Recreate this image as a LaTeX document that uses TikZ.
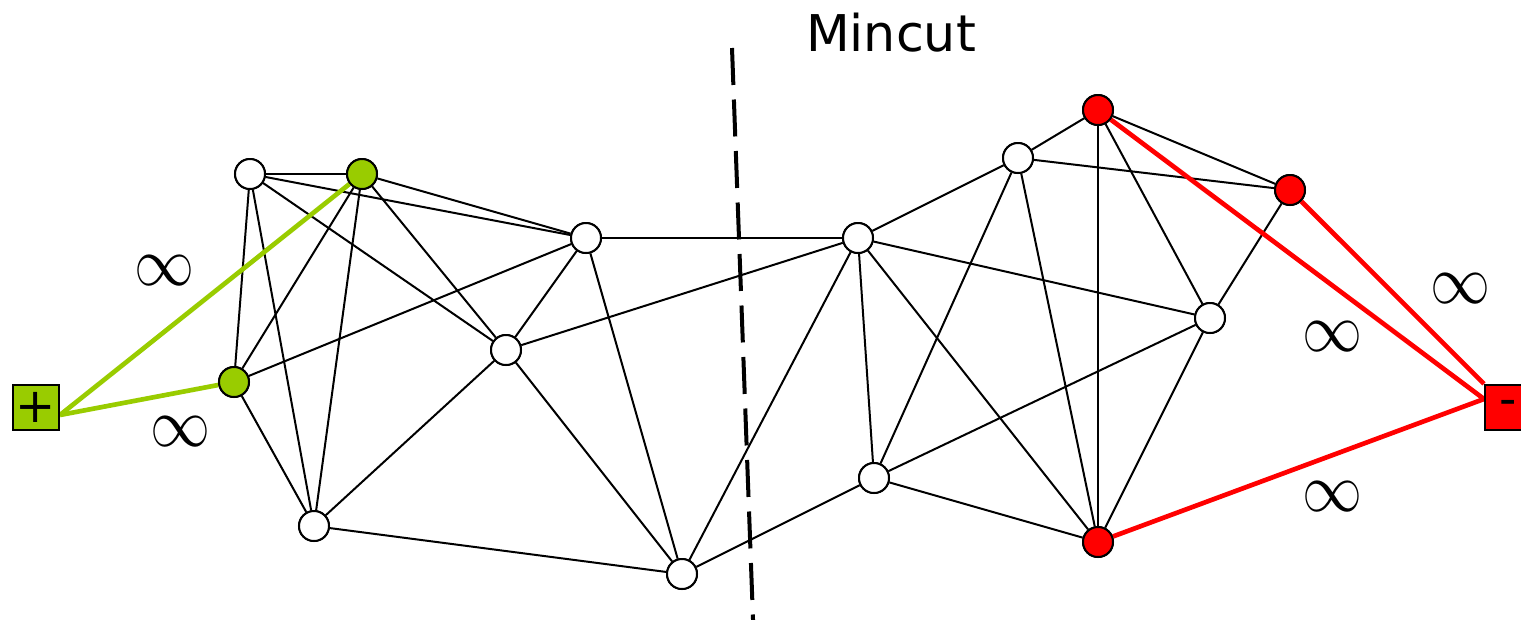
\documentclass[tikz,border=0pt]{standalone}
\usepackage{fontspec}
\newfontfamily\labelfont{DejaVu Sans}
\definecolor{srcgreen}{HTML}{99CC00}
\definecolor{sinkred}{HTML}{FF0000}
\newcommand{\bigInf}{\scalebox{4.5}[5.2]{$\infty$}}
\begin{document}
\begin{tikzpicture}[x=0.75pt,y=-0.75pt,
  vtx/.style={circle,draw=black,line width=1.5pt,fill=white,minimum size=22.5pt,inner sep=0pt},
  srcvtx/.style={vtx,fill=srcgreen},
  sinkvtx/.style={vtx,fill=sinkred},
  term/.style={rectangle,draw=black,line width=1.5pt,minimum width=34.5pt,minimum height=34pt,inner sep=0pt,font=\labelfont\fontsize{36}{36}\selectfont},
  edge/.style={line width=1.5pt,black},
  srcedge/.style={line width=3.5pt,srcgreen},
  sinkedge/.style={line width=3.5pt,sinkred},
  inf/.style={inner sep=0pt}
]
\useasboundingbox (0,0) rectangle (1521,619);
\begin{scope}
\clip (0,0) rectangle (1521,619);

% terminals
\node[term,fill=srcgreen] (src) at (36,407.5) {+};
\node[term,fill=sinkred] (snk) at (1508,407.5) {-};
\coordinate (srcport) at (60,415);
\coordinate (snkport) at (1484,399);

% vertices
\node[vtx] (a) at (250,174) {};
\node[srcvtx] (b) at (362,174) {};
\node[srcvtx] (c) at (234,382) {};
\node[vtx] (d) at (314,526) {};
\node[vtx] (e) at (586,238) {};
\node[vtx] (f) at (506,350) {};
\node[vtx] (g) at (682,574) {};
\node[vtx] (h) at (858,238) {};
\node[vtx] (i) at (874,478) {};
\node[vtx] (j) at (1018,158) {};
\node[sinkvtx] (k) at (1098,110) {};
\node[sinkvtx] (l) at (1290,190) {};
\node[vtx] (m) at (1210,318) {};
\node[sinkvtx] (n) at (1098,542) {};

% ordinary edges
\foreach \u/\v in {a/b,a/e,a/f,a/c,a/d,
                   b/e,b/f,b/c,b/d,
                   c/e,c/d,
                   d/f,d/g,
                   e/f,e/g,e/h,
                   f/h,f/g,
                   g/h,g/i,
                   h/j,h/m,h/n,h/i,
                   i/j,i/m,i/n,
                   j/k,j/l,j/n,
                   k/l,k/n,k/m,
                   l/m,m/n}
  \draw[edge] (\u) -- (\v);

% infinite-capacity terminal edges
\draw[srcedge] (srcport) -- (b);
\draw[srcedge] (srcport) -- (c);
\draw[sinkedge] (snkport) -- (k);
\draw[sinkedge] (snk.north west) -- (l);
\draw[sinkedge] (snkport) -- (n);

% redraw vertices on top of the edges
\foreach \p/\s in {a/vtx,b/srcvtx,c/srcvtx,d/vtx,e/vtx,f/vtx,g/vtx,h/vtx,i/vtx,j/vtx,k/sinkvtx,l/sinkvtx,m/vtx,n/sinkvtx}
  \node[\s] at (\p) {};
\node[term,fill=srcgreen] at (src) {+};
\node[term,fill=sinkred] at (snk) {-};

% capacity labels
\node[inf] (inf1) at (164,271) {\bigInf};
\node[inf] (inf2) at (180,432) {\bigInf};
\node[inf] (inf3) at (1460,289) {\bigInf};
\node[inf] (inf4) at (1332,337) {\bigInf};
\node[inf] (inf5) at (1332,497) {\bigInf};

% the cut
\coordinate (cuttop) at (732,48);
\coordinate (cutbot) at (753.4,630);
\draw[line width=3pt,dash pattern=on 27.75pt off 10.9pt] (cuttop) -- (cutbot);
\node[font=\labelfont\fontsize{38}{38}\selectfont,anchor=base] (title) at (891,51) {Mincut};
\end{scope}
\end{tikzpicture}
\end{document}
